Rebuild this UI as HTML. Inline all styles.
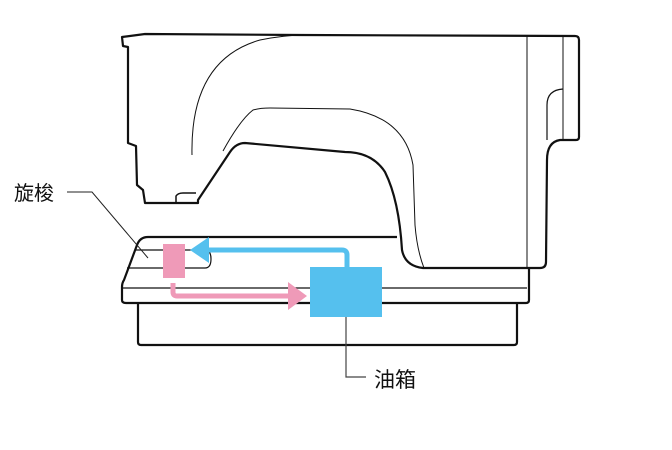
<!DOCTYPE html>
<html><head><meta charset="utf-8"><style>
html,body{margin:0;padding:0;background:#fff;}
svg{display:block;}
text{font-family:"Liberation Sans","Noto Sans CJK SC",sans-serif;}
</style></head><body>
<svg width="672" height="450" viewBox="0 0 672 450" xmlns="http://www.w3.org/2000/svg">
<g fill="none" stroke="#111" stroke-linejoin="round">
<path stroke-width="2.2" d="M122,37 L145,34 L300,35 L575,36 Q579,36 579,40 L579,137 Q579,140 576,140 L560,140 Q547,142 547,160 L546,262 Q546,268 540,268 L423,268 Q405,266 402,250 Q399,200 385,172 Q372,152 345,152 L245,143 Q236,143 230,152 L198,200 L198,203 L145,203 L143,190 L137,185 L136,146 L128,143 L128,47 L123,46 Z"/>
<path stroke-width="1.5" d="M176,203 L176,196 Q178,193 183,193 L196,193"/>
<path stroke-width="1" d="M192,155 Q190,60 260,40 Q285,35 305,35"/>
<path stroke-width="1" d="M223,151 Q240,120 253,110 Q260,108 270,108 L350,109 Q405,118 413,165 L415,225 Q417,250 424,268"/>
<path stroke-width="1" d="M527,36 L527,268"/>
<path stroke-width="1" d="M563,36 L563,140"/>
<path stroke-width="1.2" d="M563,89 Q547,90 547,105 L547,140"/>
<path stroke-width="2.2" d="M397,237 L148,237 Q140,237 137,245 L124,280 Q122,283 122,287 L122,300 Q122,303 126,303 L526,303 Q529,303 529,300 L529,268"/>
<path stroke-width="1.2" d="M123,288 L527,288"/>
<path stroke-width="1.2" d="M136,250 L205,250 Q211,250 211,259 Q211,268 205,268 L127,268"/>
<path stroke-width="2.2" d="M138,303 L138,342 Q138,345 141,345 L514,345 Q517,345 517,342 L517,303"/>
</g>
<rect x="163" y="244" width="22" height="34" fill="#ef9ab8"/>
<path d="M173,283 L173,292 Q173,296 177,296 L292,296" fill="none" stroke="#ef9ab8" stroke-width="5"/>
<polygon points="288,282 307,296 288,310" fill="#ef9ab8"/>
<rect x="310" y="267" width="72" height="50" fill="#55c0ee"/>
<path d="M347,267 L347,255 Q347,250 342,250 L203,250" fill="none" stroke="#55c0ee" stroke-width="5"/>
<polygon points="190,250 209,237 209,263" fill="#55c0ee"/>
<path d="M67,192 L92,192 L148,258" fill="none" stroke="#222" stroke-width="1"/>
<path d="M346,317 L346,377 L366,377" fill="none" stroke="#444" stroke-width="1.2"/>
<text x="14" y="200" font-size="20" fill="#111">旋梭</text>
<text x="374" y="387" font-size="21" fill="#111">油箱</text>
</svg>
</body></html>
